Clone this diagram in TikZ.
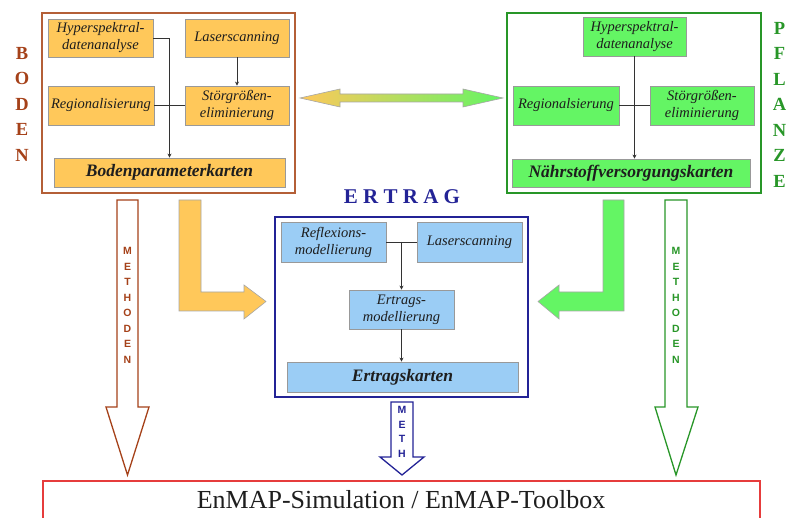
\documentclass[tikz,border=0pt]{standalone}
\usepackage{fontspec}
\setmainfont{Liberation Serif}
\newfontfamily\sansf{Liberation Sans}
\usetikzlibrary{arrows.meta,calc}
\definecolor{bodenc}{RGB}{180,95,55}
\definecolor{bodent}{RGB}{165,65,25}
\definecolor{pflc}{RGB}{40,150,40}
\definecolor{ertc}{RGB}{35,35,150}
\definecolor{yel}{RGB}{255,200,90}
\definecolor{grn}{RGB}{100,245,100}
\definecolor{mid}{RGB}{200,235,85}
\definecolor{blu}{RGB}{155,205,245}
\definecolor{redc}{RGB}{230,60,60}
\definecolor{txt}{RGB}{30,30,30}
\tikzset{
  sub/.style={draw=gray!80, line width=0.8pt, inner sep=0pt, text=txt,
    font=\fontsize{14.5}{17}\selectfont\itshape, align=center},
  res/.style={draw=gray!80, line width=0.8pt, inner sep=0pt, text=txt,
    font=\fontsize{17.5}{20}\selectfont\bfseries\itshape, align=center},
  frame/.style={line width=1.4pt, fill=white},
  conn/.style={draw=gray!40!black, line width=0.8pt},
  conna/.style={conn, -{Stealth[length=4pt,width=4pt]}},
  vlet/.style={font=\fontsize{18.5}{18.5}\selectfont\bfseries, anchor=center},
  mlet/.style={font=\sansf\fontsize{10.5}{10.5}\selectfont\bfseries, anchor=center},
}
\newcommand{\boxat}[5]{\node[#1, minimum width=#4-#2, minimum height=#5-#3] at ({(#2+#4)/2},{(#3+#5)/2})}
\begin{document}
\begin{tikzpicture}[x=1pt,y=-1pt]
\useasboundingbox (0,0) rectangle (787,518);
% ---------- BODEN ----------
\draw[frame, draw=bodenc] (42,13) rectangle (295,193);
\boxat{sub,fill=yel}{48}{19}{153}{57} (hyp1) {Hyperspektral-\\datenanalyse};
\boxat{sub,fill=yel}{185}{19}{289}{57} (las1) {Laserscanning};
\boxat{sub,fill=yel}{48}{86}{154}{125} (reg1) {Regionalisierung};
\boxat{sub,fill=yel}{185}{86}{289}{125} (stoer1) {Störgrößen-\\eliminierung};
\boxat{res,fill=yel}{54}{158}{285}{187} (bk) {Bodenparameterkarten};
\draw[conn] (reg1) -- (stoer1);
\draw[conna] (hyp1.east) -| (bk.north);
\draw[conna] (las1) -- (stoer1);
\foreach \l [count=\i from 0] in {B,O,D,E,N}
  \node[vlet, text=bodent] at (22,53+25.5*\i) {\l};
% ---------- PFLANZE ----------
\draw[frame, draw=pflc] (507,13) rectangle (761,193);
\boxat{sub,fill=grn}{583}{17}{686}{56} (hyp2) {Hyperspektral-\\datenanalyse};
\boxat{sub,fill=grn}{513}{86}{619}{125} (reg2) {Regionalsierung};
\boxat{sub,fill=grn}{650}{86}{754}{125} (stoer2) {Störgrößen-\\eliminierung};
\boxat{res,fill=grn}{512}{159}{750}{187} (nk) {Nährstoffversorgungskarten};
\draw[conn] (reg2) -- (stoer2);
\draw[conna] (hyp2.south) -- (hyp2.south |- nk.north);
\foreach \l [count=\i from 0] in {P,F,L,A,N,Z,E}
  \node[vlet, text=pflc] at (779.5,28+25.5*\i) {\l};
% ---------- double arrow ----------
\shade[left color=yel, middle color=mid, right color=grn, draw=gray!70, line width=0.6pt]
  (300,98) -- (340,89) -- (340,94) -- (463,94) -- (463,89) -- (503,98)
  -- (463,107) -- (463,102) -- (340,102) -- (340,107) -- cycle;
% ---------- ERTRAG ----------
\node[font=\fontsize{21}{21}\selectfont\bfseries, text=ertc] (ert) at (402,197) {E R T R A G};
\draw[frame, draw=ertc] (275,217) rectangle (528,397);
\boxat{sub,fill=blu}{281}{222}{386}{262} (refl) {Reflexions-\\modellierung};
\boxat{sub,fill=blu}{417}{222}{522}{262} (las3) {Laserscanning};
\boxat{sub,fill=blu}{349}{290}{454}{329} (emod) {Ertrags-\\modellierung};
\boxat{res,fill=blu}{287}{362}{518}{392} (ek) {Ertragskarten};
\draw[conn] (refl) -- (las3);
\draw[conna] (refl.east -| emod.north) -- (emod.north);
\draw[conna] (emod) -- (emod.south |- ek.north);
% ---------- L arrows ----------
\draw[fill=yel, draw=gray!70, line width=0.6pt]
  (179,200) -- (201,200) -- (201,292) -- (244,292) -- (244,285) -- (266,301.5)
  -- (244,319) -- (244,311) -- (179,311) -- cycle;
\draw[fill=grn, draw=gray!70, line width=0.6pt]
  (624,200) -- (603,200) -- (603,292) -- (559,292) -- (559,285) -- (538,301.5)
  -- (559,319) -- (559,311) -- (624,311) -- cycle;
% ---------- METHODEN arrows ----------
\draw[fill=white, draw=bodent, line width=1.3pt]
  (117,200) -- (138,200) -- (138,407) -- (149,407) -- (127.5,475) -- (106,407)
  -- (117,407) -- cycle;
\foreach \l [count=\i from 0] in {M,E,T,H,O,D,E,N}
  \node[mlet, text=bodent] at (127.5,251+15.5*\i) {\l};
\draw[fill=white, draw=pflc, line width=1.3pt]
  (665,200) -- (687,200) -- (687,407) -- (698,407) -- (676,475) -- (655,407)
  -- (665,407) -- cycle;
\foreach \l [count=\i from 0] in {M,E,T,H,O,D,E,N}
  \node[mlet, text=pflc] at (676,251+15.5*\i) {\l};
\draw[fill=white, draw=ertc, line width=1.3pt]
  (391,402) -- (413,402) -- (413,457) -- (424,457) -- (402,475) -- (380,457)
  -- (391,457) -- cycle;
\foreach \l [count=\i from 0] in {M,E,T,H}
  \node[mlet, text=ertc] at (402,410+14.5*\i) {\l};
% ---------- EnMAP ----------
\draw[draw=redc, line width=1.2pt, fill=white] (43,481) rectangle (760,530);
\node[font=\fontsize{26}{26}\selectfont, text=txt] (enmap) at (401,500) {EnMAP-Simulation / EnMAP-Toolbox};
\end{tikzpicture}
\end{document}
